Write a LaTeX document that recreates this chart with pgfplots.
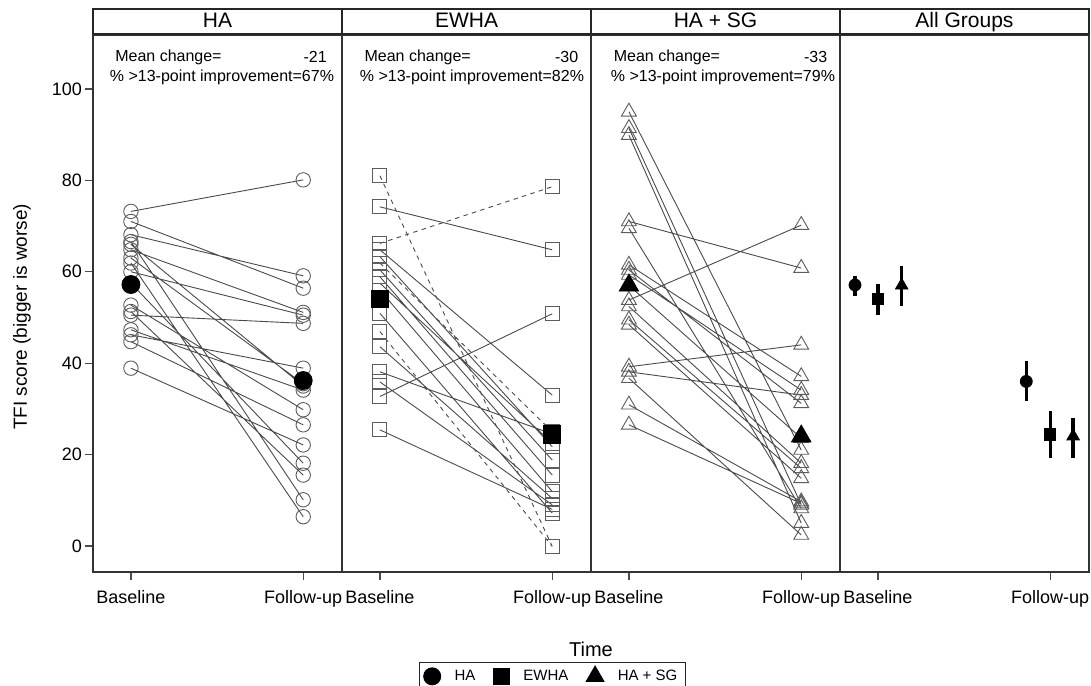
\documentclass[border=0pt]{standalone}
\usepackage{pgfplots}
\pgfplotsset{compat=1.18}
\usepackage{fontspec}
\setmainfont{Liberation Sans}

\definecolor{ln}{HTML}{4A4A4A}
\definecolor{mk}{HTML}{5C5C5C}

\tikzset{note/.style={font=\fontsize{8}{9.5}\selectfont, inner sep=0pt}}

\pgfplotsset{
  panel/.style={
    width=124.5pt, height=268.5pt, scale only axis,
    anchor=south west,
    xmin=0.78, xmax=2.225, ymin=-5.7, ymax=111.8,
    xtick={1,2}, xticklabels={Baseline,Follow-up},
    xtick pos=bottom, ytick pos=left,
    tick align=outside, major tick length=4pt,
    tick style={black!70, line width=0.6pt},
    axis line style={black!80, line width=0.8pt},
    ticklabel style={font=\fontsize{9}{10.5}\selectfont},
    xticklabel style={yshift=-1.5pt},
    yticklabel style={xshift=2pt},
    /pgf/number format/assume math mode=true,
    unbounded coords=jump,
    every axis title/.style={at={(0.5,1)}, anchor=south, draw=black!85, line width=0.8pt,
      minimum width=124.5pt, minimum height=12.5pt, inner sep=0pt,
      text height=7.5pt, text depth=2pt,
      font=\fontsize{10.5}{12}\selectfont},
  },
  pairs/.style={ln, line width=0.45pt,
    mark options={solid, draw=mk, fill=none, line width=0.45pt}},
}

\begin{document}
\begin{tikzpicture}
\useasboundingbox (-46.5pt,-56.5pt) rectangle (499pt,286pt);

% ---- HA
\begin{axis}[panel, at={(0,0)}, title={HA},
  ytick={0,20,...,100},
  ylabel={TFI score (bigger is worse)},
  ylabel style={at={(axis description cs:-0.285,0.475)}, anchor=center,
    font=\fontsize{9.5}{11}\selectfont}]
\addplot[pairs, mark=o, mark size=3.6pt] coordinates {
 (1,73.2) (2,80.1) (nan,nan)
 (1,71.0) (2,56.4) (nan,nan)
 (1,68.1) (2,59.1) (nan,nan)
 (1,66.6) (2,10.1) (nan,nan)
 (1,66.0) (2,35.0) (nan,nan)
 (1,64.8) (2,51.1) (nan,nan)
 (1,63.0) (2,35.5) (nan,nan)
 (1,61.9) (2,6.4) (nan,nan)
 (1,60.0) (2,50.5) (nan,nan)
 (1,57.5) (2,18.1) (nan,nan)
 (1,52.7) (2,29.8) (nan,nan)
 (1,51.3) (2,15.5) (nan,nan)
 (1,50.5) (2,48.7) (nan,nan)
 (1,47.3) (2,34.1) (nan,nan)
 (1,46.2) (2,38.9) (nan,nan)
 (1,44.7) (2,26.5) (nan,nan)
 (1,38.9) (2,22.1)
};
\addplot[only marks, mark=*, mark size=4.5pt, black] coordinates {(1,57.2) (2,36.2)};
\node[note, anchor=west] at (rel axis cs:0.088,0.959) {Mean change=};
\node[note, anchor=east] at (rel axis cs:0.94,0.959) {-21};
\node[note] at (rel axis cs:0.518,0.922) {\% >13-point improvement=67\%};
\end{axis}

% ---- EWHA
\begin{axis}[panel, at={(124.5pt,0)}, title={EWHA}, ytick=\empty]
\addplot[pairs, mark=square, mark size=3.5pt] coordinates {
 (1,74.2) (2,64.8) (nan,nan)
 (1,64.8) (2,33.0) (nan,nan)
 (1,63.3) (2,21.7) (nan,nan)
 (1,60.4) (2,18.8) (nan,nan)
 (1,58.9) (2,15.5) (nan,nan)
 (1,57.5) (2,22.5) (nan,nan)
 (1,56.0) (2,11.9) (nan,nan)
 (1,50.9) (2,7.2) (nan,nan)
 (1,43.6) (2,10.4) (nan,nan)
 (1,38.1) (2,24.5) (nan,nan)
 (1,35.9) (2,9.0) (nan,nan)
 (1,32.7) (2,50.8) (nan,nan)
 (1,25.4) (2,8.0)
};
\addplot[pairs, dashed, dash pattern=on 2.2pt off 2.2pt, mark=square, mark size=3.5pt] coordinates {
 (1,81.0) (2,-0.1) (nan,nan)
 (1,66.2) (2,78.6) (nan,nan)
 (1,61.9) (2,25.0) (nan,nan)
 (1,46.9) (2,-0.1)
};
\addplot[only marks, mark=square*, mark size=4.3pt, black] coordinates {(1,54.0) (2,24.4)};
\node[note, anchor=west] at (rel axis cs:0.089,0.959) {Mean change=};
\node[note, anchor=east] at (rel axis cs:0.95,0.959) {-30};
\node[note] at (rel axis cs:0.522,0.922) {\% >13-point improvement=82\%};
\end{axis}

% ---- HA + SG
\begin{axis}[panel, at={(249pt,0)}, title={HA + SG}, ytick=\empty]
\addplot[pairs, mark=triangle, mark size=4.3pt] coordinates {
 (1,95.0) (2,21.0) (nan,nan)
 (1,91.4) (2,9.0) (nan,nan)
 (1,89.9) (2,5.0) (nan,nan)
 (1,71.0) (2,60.8) (nan,nan)
 (1,69.5) (2,8.2) (nan,nan)
 (1,61.5) (2,37.1) (nan,nan)
 (1,60.4) (2,31.2) (nan,nan)
 (1,59.3) (2,34.1) (nan,nan)
 (1,57.0) (2,23.6) (nan,nan)
 (1,53.8) (2,70.2) (nan,nan)
 (1,52.4) (2,18.1) (nan,nan)
 (1,49.5) (2,17.0) (nan,nan)
 (1,48.4) (2,14.8) (nan,nan)
 (1,39.2) (2,44.0) (nan,nan)
 (1,38.1) (2,33.0) (nan,nan)
 (1,36.7) (2,2.4) (nan,nan)
 (1,30.9) (2,9.7) (nan,nan)
 (1,26.5) (2,9.3)
};
\addplot[only marks, mark=triangle*, mark size=5.6pt, black] coordinates {(1,57.0) (2,24.0)};
\node[note, anchor=west] at (rel axis cs:0.09,0.959) {Mean change=};
\node[note, anchor=east] at (rel axis cs:0.95,0.959) {-33};
\node[note] at (rel axis cs:0.53,0.922) {\% >13-point improvement=79\%};
\end{axis}

% ---- All Groups
\begin{axis}[panel, at={(373.5pt,0)}, title={All Groups}, ytick=\empty,
  legend style={at={(-1.69,-0.1676)}, anchor=north west, draw=black!85,
    line width=0.6pt, legend columns=3, inner xsep=2pt, inner ysep=1.5pt,
    font=\fontsize{7.5}{9}\selectfont,
    /tikz/every odd column/.append style={column sep=5pt},
    /tikz/every even column/.append style={column sep=7pt}},
  legend cell align=left]
\addplot[black, only marks, mark=*, mark size=3pt, forget plot,
  error bars/.cd, y dir=both, y explicit, error mark=none,
  error bar style={line width=1.7pt}] coordinates {
 (0.867,57.1) += (0,2.0) -= (0,2.3)
 (1.861,36.0) += (0,4.5) -= (0,4.3)
};
\addplot[black, only marks, mark=square*, mark size=2.8pt, forget plot,
  error bars/.cd, y dir=both, y explicit, error mark=none,
  error bar style={line width=1.7pt}] coordinates {
 (1.0,54.0) += (0,3.3) -= (0,3.5)
 (2.0,24.4) += (0,5.1) -= (0,5.2)
};
\addplot[black, only marks, mark=triangle*, mark size=3.6pt, forget plot,
  error bars/.cd, y dir=both, y explicit, error mark=none,
  error bar style={line width=1.7pt}] coordinates {
 (1.138,57.0) += (0,4.3) -= (0,4.6)
 (2.133,24.0) += (0,3.9) -= (0,4.8)
};
\addlegendimage{black, only marks, mark=*, mark size=4.2pt}
\addlegendentry{HA}
\addlegendimage{black, only marks, mark=square*, mark size=4pt}
\addlegendentry{EWHA}
\addlegendimage{black, only marks, mark=triangle*, mark size=5pt}
\addlegendentry{HA + SG}
\end{axis}

\node[font=\fontsize{10}{12}\selectfont] at (249pt,-38.5pt) {Time};
\end{tikzpicture}
\end{document}
